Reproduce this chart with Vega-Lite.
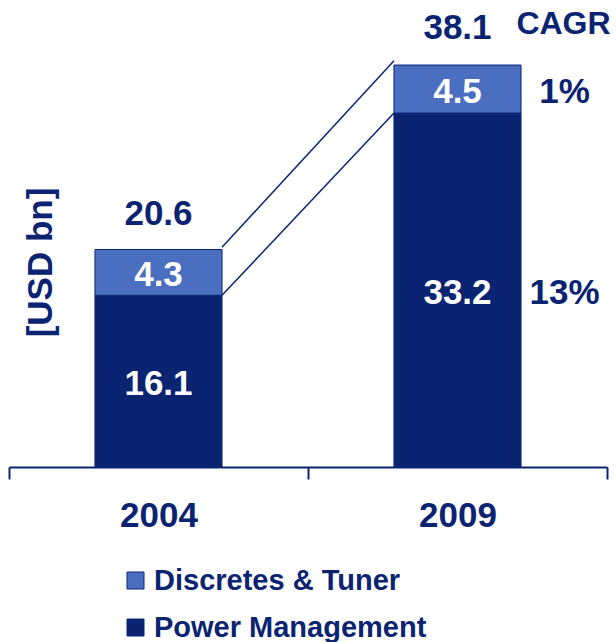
{
  "$schema": "https://vega.github.io/schema/vega-lite/v6.json",
  "width": 598,
  "height": 467,
  "autosize": "none",
  "padding": {"left": 9, "right": 9, "top": 0, "bottom": 175},
  "background": "white",
  "config": {"view": {"stroke": null}, "font": "Liberation Sans"},
  "datasets": {
    "segments": [
      {"year": "2004", "segment": "Power Management", "value": 16.1},
      {"year": "2004", "segment": "Discretes & Tuner", "value": 4.3},
      {"year": "2009", "segment": "Power Management", "value": 33.2, "cagr": "13%"},
      {"year": "2009", "segment": "Discretes & Tuner", "value": 4.5, "cagr": "1%"}
    ],
    "totals": [
      {"year": "2004", "total": 20.6},
      {"year": "2009", "total": 38.1}
    ],
    "links": [
      {"from": "2004", "to": "2009", "start": 20.6, "end": 38.1},
      {"from": "2004", "to": "2009", "start": 16.1, "end": 33.2}
    ]
  },
  "layer": [
    {
      "data": {"name": "segments"},
      "mark": {"type": "bar", "width": {"band": 0.425}, "stroke": "#0B2472", "strokeWidth": 1},
      "encoding": {
        "x": {
          "field": "year", "type": "nominal",
          "scale": {"paddingInner": 0, "paddingOuter": 0},
          "axis": {
            "title": null, "labelAngle": 0, "labelFontSize": 35, "labelFont": "Liberation Sans",
            "labelFontWeight": "bold", "labelColor": "#0B2472", "domainColor": "#0B2472",
            "domainWidth": 2, "tickColor": "#0B2472", "tickWidth": 2, "tickSize": 12,
            "tickBand": "extent", "labelPadding": 19
          }
        },
        "y": {
          "field": "value", "type": "quantitative", "stack": "zero",
          "scale": {"domain": [0, 43.8], "nice": false},
          "axis": {
            "title": "[USD bn]", "domain": false, "ticks": false, "labels": false, "grid": false,
            "titleFontSize": 35, "titleFont": "Liberation Sans", "titleFontWeight": "bold",
            "titleColor": "#0B2472", "titleX": 31, "titleY": 262, "titleAngle": -90,
            "titleAlign": "center", "titleBaseline": "middle"
          }
        },
        "color": {
          "field": "segment", "type": "nominal",
          "scale": {"domain": ["Discretes & Tuner", "Power Management"], "range": ["#4A6FC1", "#0B2472"]},
          "legend": {
            "title": null, "orient": "none", "legendX": 112, "legendY": 566, "direction": "vertical",
            "padding": 0,
            "symbolType": "square", "symbolSize": 289, "symbolStrokeColor": "#0B2472", "symbolStrokeWidth": 1,
            "labelFontSize": 29, "labelFont": "Liberation Sans", "labelFontWeight": "bold",
            "labelColor": "#0B2472", "rowPadding": 17, "labelOffset": 4, "labelLimit": 0
          }
        },
        "order": {"field": "segment", "sort": "descending"}
      }
    },
    {
      "data": {"name": "segments"},
      "mark": {"type": "text", "fontSize": 35, "fontWeight": "bold", "color": "white", "baseline": "middle", "align": "center", "dy": 3},
      "encoding": {
        "x": {"field": "year", "type": "nominal"},
        "y": {"field": "value", "type": "quantitative", "stack": "zero", "bandPosition": 0.5},
        "detail": {"field": "segment"},
        "order": {"field": "segment", "sort": "descending"},
        "text": {"field": "value", "type": "quantitative", "format": ".1f"}
      }
    },
    {
      "data": {"name": "segments"},
      "transform": [{"filter": "datum.year == '2009'"}],
      "mark": {"type": "text", "fontSize": 35, "fontWeight": "bold", "color": "#0B2472", "baseline": "middle", "align": "center", "dx": 107, "dy": 3},
      "encoding": {
        "x": {"field": "year", "type": "nominal"},
        "y": {"field": "value", "type": "quantitative", "stack": "zero", "bandPosition": 0.5},
        "detail": {"field": "segment"},
        "order": {"field": "segment", "sort": "descending"},
        "text": {"field": "cagr", "type": "nominal"}
      }
    },
    {
      "data": {"name": "totals"},
      "mark": {"type": "text", "fontSize": 35, "fontWeight": "bold", "color": "#0B2472", "baseline": "middle", "align": "center", "dy": -33},
      "encoding": {
        "x": {"field": "year", "type": "nominal"},
        "y": {"field": "total", "type": "quantitative"},
        "text": {"field": "total", "type": "quantitative", "format": ".1f"}
      }
    },
    {
      "data": {"name": "totals"},
      "transform": [{"filter": "datum.year == '2009'"}],
      "mark": {"type": "text", "fontSize": 32, "fontWeight": "bold", "color": "#0B2472", "baseline": "middle", "align": "center", "dx": 106, "dy": -37},
      "encoding": {
        "x": {"field": "year", "type": "nominal"},
        "y": {"field": "total", "type": "quantitative"},
        "text": {"value": "CAGR"}
      }
    },
    {
      "data": {"name": "links"},
      "mark": {"type": "rule", "color": "#0B2472", "strokeWidth": 1.5, "xOffset": 63.5, "x2Offset": -63.5},
      "encoding": {
        "x": {"field": "from", "type": "nominal"},
        "x2": {"field": "to"},
        "y": {"field": "start", "type": "quantitative"},
        "y2": {"field": "end"}
      }
    }
  ]
}
